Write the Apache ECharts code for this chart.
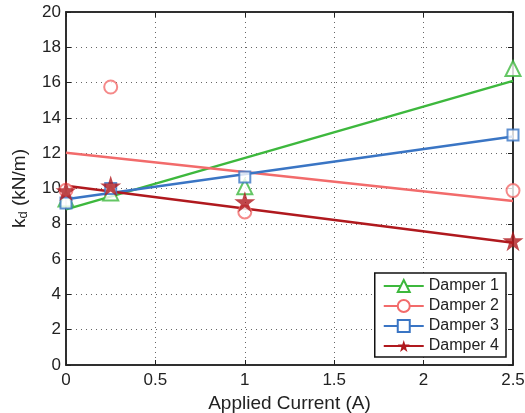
<!DOCTYPE html>
<html>
<head>
<meta charset="utf-8">
<script src="https://cdn.jsdelivr.net/npm/echarts@6/dist/echarts.min.js"></script>
<style>html,body{margin:0;padding:0;background:#fff}#c{width:525px;height:413px}</style>
</head>
<body>
<div id="c"></div>
<script>
// Data
const currents = [0, 0.25, 1, 2.5];
const names = ['Damper 1', 'Damper 2', 'Damper 3', 'Damper 4'];
const damper1 = [9.4, 9.75, 10.1, 16.8];
const damper2 = [9.9, 15.75, 8.67, 9.88];
const damper3 = [9.18, 10.0, 10.65, 13.03];
const damper4 = [9.88, 10.14, 9.25, 7.04];
// Linear-fit end values (at current 0 and 2.5)
const fitX = [0, 2.5];
const fit1 = [8.82, 16.1];
const fit2 = [12.03, 9.29];
const fit3 = [9.39, 12.94];
const fit4 = [10.16, 6.93];
const xTicks = [0, 0.5, 1, 1.5, 2, 2.5];
const yTicks = [0, 2, 4, 6, 8, 10, 12, 14, 16, 18, 20];

const colors = ['#3db83d', '#f26b6b', '#3a75c4', '#b0191e'];
const starPath = 'path://M50,0 L61.17,34.63 L97.55,34.55 L68.07,55.87 L79.39,90.45 L50,69 L20.61,90.45 L31.93,55.87 L2.45,34.55 L38.83,34.63 Z';
const symbols = ['emptyTriangle', 'emptyCircle', 'emptyRect', starPath];
const sizes = [15, 13, 11, 21];
const pts = [damper1, damper2, damper3, damper4];
const fits = [fit1, fit2, fit3, fit4];

const font = 'Liberation Sans, Arial, Helvetica, sans-serif';
const series = [];
for (let i = 0; i < 4; i++) {
  series.push({
    name: names[i], type: 'line', z: 2,
    data: fitX.map((x, k) => ({ value: [x, fits[i][k]], symbol: 'none' })),
    symbol: symbols[i], symbolSize: sizes[i], showSymbol: false,
    lineStyle: { color: colors[i], width: 2.5 },
    itemStyle: { color: colors[i], borderWidth: 2 },
    emphasis: { disabled: true }, silent: true
  });
}
for (let i = 0; i < 4; i++) {
  series.push({
    name: names[i], type: 'scatter', z: 3 + i,
    data: currents.map((x, k) => [x, pts[i][k]]),
    symbol: symbols[i], symbolSize: sizes[i],
    itemStyle: i === 3 ? { color: colors[i] } : { color: colors[i], borderWidth: 2, borderColor: colors[i] },
    emphasis: { disabled: true }
  });
}
// empty helper series so the top/right frame axes are drawn
series.push({ name: '_frame', type: 'scatter', xAxisIndex: 1, yAxisIndex: 1, data: [], silent: true });

const axisLine = { show: true, onZero: false, lineStyle: { color: '#222', width: 1.5 } };
const tick = { show: true, inside: true, length: 5, lineStyle: { color: '#222', width: 1 } };
const gridLine = { show: true, lineStyle: { color: '#666', type: [1, 4], width: 1 } };
const chart = echarts.init(document.getElementById('c'));
chart.setOption({
  animation: false,
  backgroundColor: '#fff',
  textStyle: { fontFamily: font },
  grid: { left: 66, right: 12, top: 12, bottom: 48, containLabel: false, outerBoundsMode: 'none',
          show: true, borderColor: '#222', borderWidth: 1.5, backgroundColor: 'transparent' },
  legend: {
    data: names, orient: 'vertical', right: 19, top: 273,
    itemWidth: 40, itemHeight: 15, itemGap: 4,
    padding: [5, 7, 3, 8], borderColor: '#111', borderWidth: 1.5, backgroundColor: '#fff',
    textStyle: { fontSize: 16, color: '#222', fontFamily: font }
  },
  xAxis: [{
    type: 'value', min: xTicks[0], max: xTicks[xTicks.length - 1], interval: 0.5,
    name: 'Applied Current (A)', nameLocation: 'middle', nameGap: 26,
    nameTextStyle: { fontSize: 19, color: '#222', fontFamily: font },
    axisLine: axisLine, axisTick: tick,
    axisLabel: { fontSize: 17, color: '#222', margin: 7, fontFamily: font },
    splitLine: gridLine
  }, {
    type: 'value', position: 'top', min: 0, max: 2.5, interval: 0.5,
    axisLine: axisLine, axisTick: tick, axisLabel: { show: false }, splitLine: { show: false }
  }],
  yAxis: [{
    type: 'value', min: yTicks[0], max: yTicks[yTicks.length - 1], interval: 2,
    name: '{k|k}{s|d}{k| (kN/m)}', nameLocation: 'middle', nameGap: 36, nameRotate: 90,
    nameTextStyle: { fontSize: 19, color: '#222', fontFamily: font,
      rich: { k: { fontSize: 19, color: '#222', fontFamily: font },
              s: { fontSize: 13, color: '#222', fontFamily: font, verticalAlign: 'bottom', padding: [8, 0, 0, 0] } } },
    axisLine: axisLine, axisTick: tick,
    axisLabel: { fontSize: 17, color: '#222', margin: 5, fontFamily: font },
    splitLine: gridLine
  }, {
    type: 'value', position: 'right', min: 0, max: 20, interval: 2,
    axisLine: axisLine, axisTick: tick, axisLabel: { show: false }, splitLine: { show: false }
  }],
  series: series
});
</script>
</body>
</html>
